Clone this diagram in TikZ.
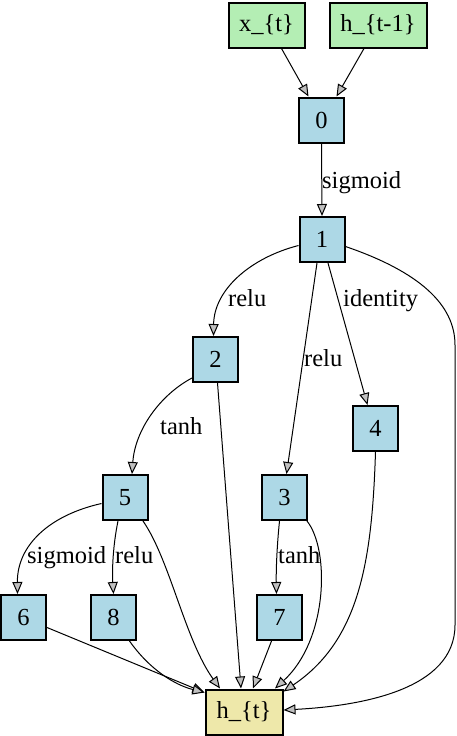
\documentclass[tikz,border=0pt]{standalone}
\usepackage{fontspec}
\setmainfont{Liberation Serif}
\usetikzlibrary{arrows.meta}
\definecolor{nodeblue}{HTML}{ADD8E6}
\definecolor{nodegreen}{HTML}{B4EEB4}
\definecolor{nodeyellow}{HTML}{EEE8AA}
\definecolor{tipgray}{HTML}{C0C0C0}
\begin{document}
\begin{tikzpicture}[x=1pt,y=-1pt,
  every node/.style={font=\fontsize{24.5}{28}\selectfont},
  box/.style={draw=black,line width=2pt,inner sep=0pt,minimum height=45pt},
  opbox/.style={box,fill=nodeblue,minimum width=45pt},
  inbox/.style={box,fill=nodegreen},
  outbox/.style={box,fill=nodeyellow},
  edge/.style={line width=1pt,-{Triangle[length=12pt,width=10pt,fill=tipgray]}},
  lbl/.style={anchor=base west,inner sep=0pt}]
\useasboundingbox (0,0) rectangle (457,736);
\node[inbox,minimum width=76pt] (xt) at (266.5,25) {x\_\{t\}};
\node[inbox,minimum width=97pt] (htm) at (378,25) {h\_\{t-1\}};
\node[opbox] (n0) at (321.5,120) {0};
\node[opbox] (n1) at (322,239.5) {1};
\node[opbox] (n2) at (215.5,359.5) {2};
\node[opbox] (n4) at (375.5,428.5) {4};
\node[opbox] (n5) at (125,497.5) {5};
\node[opbox] (n3) at (284.5,497.5) {3};
\node[opbox] (n6) at (23.5,617.5) {6};
\node[opbox] (n8) at (113.5,617.5) {8};
\node[opbox] (n7) at (279.5,617.5) {7};
\node[outbox,minimum width=77pt] (ht) at (244,712) {h\_\{t\}};

\draw[edge] ([xshift=15pt]xt.south) -- ([xshift=-13pt]n0.north);
\draw[edge] ([xshift=-14pt]htm.south) -- ([xshift=15pt]n0.north);
\draw[edge] (n0.south) -- (n1.north);
\node[lbl] (l01) at (322,188) {sigmoid};

\draw[edge] ([yshift=-6pt]n1.west) .. controls (250,258) and (214,290) .. ([xshift=-2pt]n2.north);
\node[lbl] (l12) at (228,306) {relu};
\draw[edge] ([xshift=-5pt]n1.south) -- ([xshift=2pt]n3.north);
\node[lbl] (l13) at (304,366) {relu};
\draw[edge] ([xshift=6pt]n1.south) -- ([xshift=-8pt]n4.north);
\node[lbl] (l14) at (343,306) {identity};
\draw[edge] ([yshift=-7pt]n1.east) .. controls (420,272) and (455,305) .. (455,345) -- (455,625) .. controls (455,690) and (360,706) .. ([yshift=2pt]ht.east);

\draw[edge] ([yshift=5pt]n2.south west) .. controls (160,395) and (135,430) .. ([xshift=7pt]n5.north);
\node[lbl] (l25) at (160,434) {tanh};
\draw[edge] ([xshift=2pt]n2.south) -- ([xshift=-3pt]ht.north);

\draw[edge] (n4.south) .. controls (372,560) and (360,640) .. ([yshift=-3pt]ht.north east);

\draw[edge] ([yshift=-6pt]n5.west) .. controls (50,515) and (17,545) .. ([xshift=-6pt]n6.north);
\node[lbl] (l56) at (27,563) {sigmoid};
\draw[edge] ([xshift=-7pt]n5.south) .. controls (113,545) and (112,570) .. (n8.north);
\node[lbl] (l58) at (115,563) {relu};
\draw[edge] ([xshift=18pt]n5.south) .. controls (170,560) and (185,640) .. ([xshift=-24pt]ht.north);

\draw[edge] ([xshift=-5pt]n3.south) .. controls (277,545) and (276,570) .. ([xshift=-3pt]n7.north);
\node[lbl] (l37) at (278,563) {tanh};
\draw[edge] ([xshift=-1pt]n3.south east) .. controls (330,550) and (328,640) .. ([xshift=31pt]ht.north);

\draw[edge] ([yshift=-10pt]n6.east) -- ([yshift=-4pt]ht.north west);
\draw[edge] ([xshift=16pt]n8.south) .. controls (150,670) and (175,685) .. ([yshift=-4pt]ht.north west);
\draw[edge] ([xshift=-8pt]n7.south) -- ([xshift=9pt]ht.north);
\end{tikzpicture}
\end{document}
